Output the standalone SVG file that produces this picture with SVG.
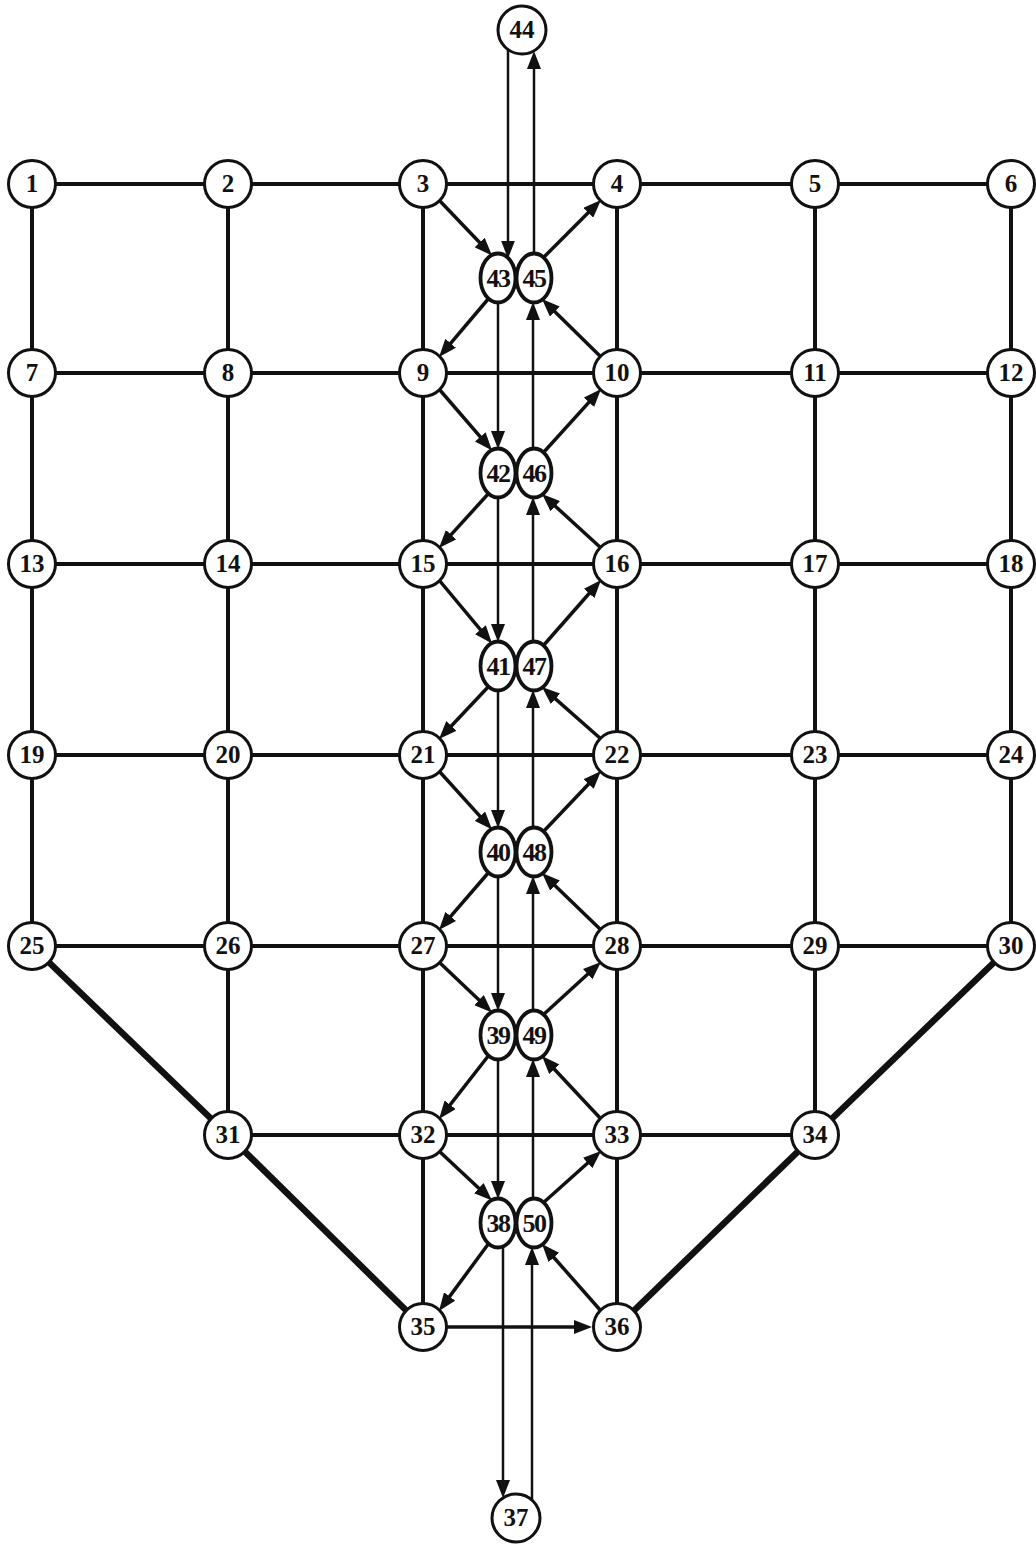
<svg xmlns="http://www.w3.org/2000/svg" width="1036" height="1545" viewBox="0 0 1036 1545">
<style>
.g{stroke:#111;stroke-width:4;fill:none}
.t{stroke:#111;stroke-width:6.5;fill:none}
.a{stroke:#111;stroke-width:3.5;fill:none;marker-end:url(#ah)}
.v{stroke:#111;stroke-width:2.5;fill:none;marker-end:url(#ah)}
.n circle{fill:#fff;stroke:#111;stroke-width:3}
.n ellipse{fill:#fff;stroke:#111;stroke-width:3.8}
.n text{font-family:"Liberation Serif","Times New Roman",serif;font-weight:bold;font-size:25px;fill:#111;text-anchor:middle}
.n text.e{font-size:26px;letter-spacing:-1.5px}
</style>
<defs>
<marker id="ah" viewBox="0 0 18 14" refX="8" refY="7" markerWidth="18" markerHeight="14" markerUnits="userSpaceOnUse" orient="auto"><path d="M0,0L18,7L0,14z" fill="#111"/></marker>
</defs>
<rect width="1036" height="1545" fill="#fff"/>
<g id="connectors">
<line class="g" x1="32" y1="184" x2="1011" y2="184"/>
<line class="g" x1="32" y1="373" x2="1011" y2="373"/>
<line class="g" x1="32" y1="564" x2="1011" y2="564"/>
<line class="g" x1="32" y1="755" x2="1011" y2="755"/>
<line class="g" x1="32" y1="946" x2="1011" y2="946"/>
<line class="g" x1="228" y1="1135" x2="815" y2="1135"/>
<line class="g" x1="32" y1="184" x2="32" y2="946"/>
<line class="g" x1="228" y1="184" x2="228" y2="1135"/>
<line class="g" x1="423" y1="184" x2="423" y2="1327"/>
<line class="g" x1="617" y1="184" x2="617" y2="1327"/>
<line class="g" x1="815" y1="184" x2="815" y2="1135"/>
<line class="g" x1="1011" y1="184" x2="1011" y2="946"/>
<line class="t" x1="32" y1="946" x2="228" y2="1135"/>
<line class="t" x1="228" y1="1135" x2="423" y2="1327"/>
<line class="t" x1="1011" y1="946" x2="815" y2="1135"/>
<line class="t" x1="815" y1="1135" x2="617" y2="1327"/>
<line class="a" x1="446" y1="1327" x2="582" y2="1327"/>
<line class="a" x1="439" y1="200" x2="485.1" y2="248.3"/>
<line class="a" x1="439" y1="389" x2="485.5" y2="442.9"/>
<line class="a" x1="439" y1="580" x2="485.6" y2="635.8"/>
<line class="a" x1="439" y1="771" x2="485.3" y2="822.1"/>
<line class="a" x1="439" y1="962" x2="484.8" y2="1005.6"/>
<line class="a" x1="439" y1="1151" x2="484.7" y2="1193.7"/>
<line class="a" x1="543" y1="258" x2="593.9" y2="207.1"/>
<line class="a" x1="543" y1="453" x2="594.3" y2="396.4"/>
<line class="a" x1="543" y1="646" x2="594.4" y2="587.5"/>
<line class="a" x1="543" y1="832" x2="594.1" y2="778.2"/>
<line class="a" x1="543" y1="1015" x2="593.6" y2="968.7"/>
<line class="a" x1="543" y1="1203" x2="593.6" y2="1157.7"/>
<line class="a" x1="489" y1="298" x2="445.5" y2="349.4"/>
<line class="a" x1="489" y1="493" x2="445.7" y2="540.6"/>
<line class="a" x1="489" y1="686" x2="445.9" y2="731.7"/>
<line class="a" x1="489" y1="872" x2="445.5" y2="922.4"/>
<line class="a" x1="489" y1="1055" x2="445.2" y2="1111.1"/>
<line class="a" x1="489" y1="1243" x2="444.9" y2="1302.9"/>
<line class="a" x1="601" y1="357" x2="549.1" y2="306"/>
<line class="a" x1="601" y1="548" x2="549.4" y2="500.8"/>
<line class="a" x1="601" y1="739" x2="549.5" y2="693.6"/>
<line class="a" x1="601" y1="930" x2="549.2" y2="880"/>
<line class="a" x1="601" y1="1119" x2="548.8" y2="1063.3"/>
<line class="a" x1="601" y1="1311" x2="548.6" y2="1251.5"/>
<line class="v" x1="508" y1="50" x2="508" y2="248.6"/>
<line class="v" x1="534" y1="254" x2="534" y2="61"/>
<line class="v" x1="498" y1="302" x2="498" y2="439"/>
<line class="v" x1="533" y1="449" x2="533" y2="312"/>
<line class="v" x1="498" y1="497" x2="498" y2="632"/>
<line class="v" x1="533" y1="642" x2="533" y2="507"/>
<line class="v" x1="498" y1="690" x2="498" y2="818"/>
<line class="v" x1="533" y1="828" x2="533" y2="700"/>
<line class="v" x1="498" y1="876" x2="498" y2="1001"/>
<line class="v" x1="533" y1="1011" x2="533" y2="886"/>
<line class="v" x1="498" y1="1059" x2="498" y2="1189"/>
<line class="v" x1="533" y1="1199" x2="533" y2="1069"/>
<line class="v" x1="503" y1="1246" x2="503" y2="1488"/>
<line class="v" x1="532" y1="1500" x2="532" y2="1257"/>
</g>
<g class="n">
<g id="n1"><circle cx="32" cy="184" r="23.5"/><text x="32" y="192">1</text></g>
<g id="n2"><circle cx="228" cy="184" r="23.5"/><text x="228" y="192">2</text></g>
<g id="n3"><circle cx="423" cy="184" r="23.5"/><text x="423" y="192">3</text></g>
<g id="n4"><circle cx="617" cy="184" r="23.5"/><text x="617" y="192">4</text></g>
<g id="n5"><circle cx="815" cy="184" r="23.5"/><text x="815" y="192">5</text></g>
<g id="n6"><circle cx="1011" cy="184" r="23.5"/><text x="1011" y="192">6</text></g>
<g id="n7"><circle cx="32" cy="373" r="23.5"/><text x="32" y="381">7</text></g>
<g id="n8"><circle cx="228" cy="373" r="23.5"/><text x="228" y="381">8</text></g>
<g id="n9"><circle cx="423" cy="373" r="23.5"/><text x="423" y="381">9</text></g>
<g id="n10"><circle cx="617" cy="373" r="23.5"/><text x="617" y="381">10</text></g>
<g id="n11"><circle cx="815" cy="373" r="23.5"/><text x="815" y="381">11</text></g>
<g id="n12"><circle cx="1011" cy="373" r="23.5"/><text x="1011" y="381">12</text></g>
<g id="n13"><circle cx="32" cy="564" r="23.5"/><text x="32" y="572">13</text></g>
<g id="n14"><circle cx="228" cy="564" r="23.5"/><text x="228" y="572">14</text></g>
<g id="n15"><circle cx="423" cy="564" r="23.5"/><text x="423" y="572">15</text></g>
<g id="n16"><circle cx="617" cy="564" r="23.5"/><text x="617" y="572">16</text></g>
<g id="n17"><circle cx="815" cy="564" r="23.5"/><text x="815" y="572">17</text></g>
<g id="n18"><circle cx="1011" cy="564" r="23.5"/><text x="1011" y="572">18</text></g>
<g id="n19"><circle cx="32" cy="755" r="23.5"/><text x="32" y="763">19</text></g>
<g id="n20"><circle cx="228" cy="755" r="23.5"/><text x="228" y="763">20</text></g>
<g id="n21"><circle cx="423" cy="755" r="23.5"/><text x="423" y="763">21</text></g>
<g id="n22"><circle cx="617" cy="755" r="23.5"/><text x="617" y="763">22</text></g>
<g id="n23"><circle cx="815" cy="755" r="23.5"/><text x="815" y="763">23</text></g>
<g id="n24"><circle cx="1011" cy="755" r="23.5"/><text x="1011" y="763">24</text></g>
<g id="n25"><circle cx="32" cy="946" r="23.5"/><text x="32" y="954">25</text></g>
<g id="n26"><circle cx="228" cy="946" r="23.5"/><text x="228" y="954">26</text></g>
<g id="n27"><circle cx="423" cy="946" r="23.5"/><text x="423" y="954">27</text></g>
<g id="n28"><circle cx="617" cy="946" r="23.5"/><text x="617" y="954">28</text></g>
<g id="n29"><circle cx="815" cy="946" r="23.5"/><text x="815" y="954">29</text></g>
<g id="n30"><circle cx="1011" cy="946" r="23.5"/><text x="1011" y="954">30</text></g>
<g id="n31"><circle cx="228" cy="1135" r="23.5"/><text x="228" y="1143">31</text></g>
<g id="n32"><circle cx="423" cy="1135" r="23.5"/><text x="423" y="1143">32</text></g>
<g id="n33"><circle cx="617" cy="1135" r="23.5"/><text x="617" y="1143">33</text></g>
<g id="n34"><circle cx="815" cy="1135" r="23.5"/><text x="815" y="1143">34</text></g>
<g id="n35"><circle cx="423" cy="1327" r="23.5"/><text x="423" y="1335">35</text></g>
<g id="n36"><circle cx="617" cy="1327" r="23.5"/><text x="617" y="1335">36</text></g>
<g id="n37"><circle cx="516" cy="1518" r="24"/><text x="516" y="1526">37</text></g>
<g id="n44"><circle cx="522" cy="30" r="24"/><text x="522" y="38">44</text></g>
<g id="n43"><ellipse cx="498" cy="278" rx="17.5" ry="24.5"/><text class="e" x="498" y="287">43</text></g>
<g id="n45"><ellipse cx="534" cy="278" rx="17.5" ry="24.5"/><text class="e" x="534" y="287">45</text></g>
<g id="n42"><ellipse cx="498" cy="473" rx="17.5" ry="24.5"/><text class="e" x="498" y="482">42</text></g>
<g id="n46"><ellipse cx="534" cy="473" rx="17.5" ry="24.5"/><text class="e" x="534" y="482">46</text></g>
<g id="n41"><ellipse cx="498" cy="666" rx="17.5" ry="24.5"/><text class="e" x="498" y="675">41</text></g>
<g id="n47"><ellipse cx="534" cy="666" rx="17.5" ry="24.5"/><text class="e" x="534" y="675">47</text></g>
<g id="n40"><ellipse cx="498" cy="852" rx="17.5" ry="24.5"/><text class="e" x="498" y="861">40</text></g>
<g id="n48"><ellipse cx="534" cy="852" rx="17.5" ry="24.5"/><text class="e" x="534" y="861">48</text></g>
<g id="n39"><ellipse cx="498" cy="1035" rx="17.5" ry="24.5"/><text class="e" x="498" y="1044">39</text></g>
<g id="n49"><ellipse cx="534" cy="1035" rx="17.5" ry="24.5"/><text class="e" x="534" y="1044">49</text></g>
<g id="n38"><ellipse cx="498" cy="1223" rx="17.5" ry="24.5"/><text class="e" x="498" y="1232">38</text></g>
<g id="n50"><ellipse cx="534" cy="1223" rx="17.5" ry="24.5"/><text class="e" x="534" y="1232">50</text></g>
</g>
</svg>
